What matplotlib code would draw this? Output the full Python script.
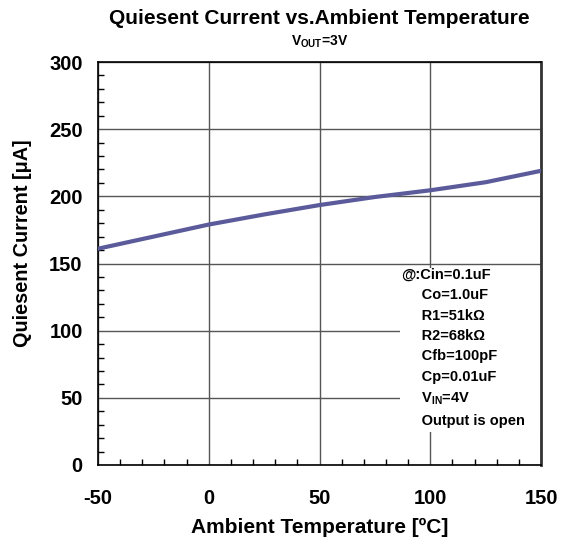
import matplotlib
matplotlib.use('Agg')
import matplotlib.pyplot as plt
from matplotlib.ticker import MultipleLocator
from matplotlib.patches import Rectangle

temps = [-50, -25, 0, 25, 50, 75, 100, 125, 150]
current = [161, 170, 179, 186.5, 193.5, 199.5, 204.5, 210.5, 219]

x_ticks = [-50, 0, 50, 100, 150]
y_ticks = [0, 50, 100, 150, 200, 250, 300]

note_lines = ['@:Cin=0.1uF', '     Co=1.0uF', '     R1=51k\u03a9', '     R2=68k\u03a9',
              '     Cfb=100pF', '     Cp=0.01uF', r'     V$_{\mathbf{IN}}$=4V',
              '     Output is open']

plt.rcParams['font.family'] = ['Liberation Sans', 'DejaVu Sans']
plt.rcParams['font.weight'] = 'bold'
plt.rcParams['axes.unicode_minus'] = False
plt.rcParams['mathtext.fontset'] = 'custom'
plt.rcParams['mathtext.bf'] = 'Liberation Sans:bold'
plt.rcParams['mathtext.rm'] = 'Liberation Sans:bold'

fig = plt.figure(figsize=(5.68, 5.39), dpi=100)
ax = fig.add_axes([98 / 568, 1 - 465 / 539, 443 / 568, 403 / 539])

ax.set_xlim(-50, 150)
ax.set_ylim(0, 300)
ax.set_xticks(x_ticks)
ax.set_yticks(y_ticks)
ax.xaxis.set_minor_locator(MultipleLocator(10))
ax.yaxis.set_minor_locator(MultipleLocator(10))
ax.tick_params(which='both', direction='in', labelsize=14.5, width=1)
ax.tick_params(which='major', length=0)
ax.tick_params(axis='x', which='major', pad=17)
ax.tick_params(axis='y', which='major', pad=11)
ax.tick_params(which='minor', length=4)
ax.tick_params(axis='x', which='minor', top=False)
ax.tick_params(axis='y', which='minor', right=False)
for lab in ax.get_xticklabels() + ax.get_yticklabels():
    lab.set_fontweight('bold')

ax.grid(True, which='major', color='#555555', linewidth=1)
for s in ax.spines.values():
    s.set_color('#000000')
    s.set_linewidth(1.2)
ax.spines['right'].set_linewidth(2)
ax.spines['right'].set_color('#333333')

ax.plot(temps, current, color='#5b5b9b', linewidth=3, zorder=3)

# white panel behind the conditions note
ax.add_patch(Rectangle((0.682, 0.082), 0.318, 0.407, transform=ax.transAxes,
                       facecolor='white', edgecolor='none', zorder=2.5))
ax.text(0.684, 0.489, '\n'.join(note_lines), transform=ax.transAxes,
        fontsize=10.5, fontweight='bold', va='top', ha='left', linespacing=1.58,
        zorder=4)

ax.set_xlabel('Ambient Temperature [ºC]', fontsize=15, fontweight='bold', labelpad=7.5)
ax.set_ylabel('Quiesent Current [\u03bcA]', fontsize=14.3, fontweight='bold')
ax.yaxis.set_label_coords(-0.149, 0.551)

fig.text(0.5625, 1 - 18 / 539, 'Quiesent Current vs.Ambient Temperature',
         ha='center', va='center', fontsize=15, fontweight='bold')
fig.text(0.5625, 1 - 42 / 539, r'V$_{\mathbf{OUT}}$=3V', ha='center', va='center',
         fontsize=10, fontweight='bold')

fig.savefig('out.png', dpi=100, facecolor='white')
